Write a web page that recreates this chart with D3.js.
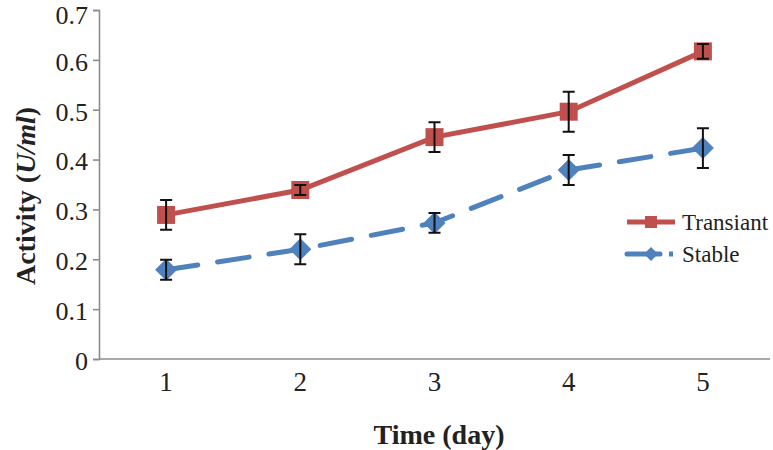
<!DOCTYPE html>
<html><head><meta charset="utf-8">
<script src="https://cdn.jsdelivr.net/npm/d3@7"></script>
<style>body{margin:0;background:#fff}svg{display:block}svg text{font-family:'Liberation Serif','Times New Roman',serif}</style>
</head><body><svg id="c" width="773" height="450"></svg>
<script>
const days = ["1","2","3","4","5"];
const transiant = [0.289, 0.339, 0.445, 0.496, 0.617];
const transiantErr = [0.03, 0.01, 0.03, 0.04, 0.015];
const stable = [0.179, 0.220, 0.273, 0.379, 0.423];
const stableErr = [0.02, 0.03, 0.02, 0.03, 0.04];
const yTicks = [0,0.1,0.2,0.3,0.4,0.5,0.6,0.7];
const seriesNames = ["Transiant","Stable"];

const svg = d3.select("#c");
const m = {l:99, r:3, t:10, b:91};
const W = 773, H = 450;
const x = d3.scaleBand().domain(days).range([m.l, W - m.r]);
const y = d3.scaleLinear().domain([0,0.7]).range([H - m.b, m.t]);
const font = "'Liberation Serif','Times New Roman',serif";
const axisCol = "#8c8c8c";

const ya = svg.append("g").attr("transform",`translate(${m.l},0)`)
  .call(d3.axisLeft(y).tickValues(yTicks).tickSize(6).tickPadding(5).tickFormat(d=>d===0?"0":d3.format(".1f")(d)));
ya.selectAll("path,line").attr("stroke",axisCol).attr("stroke-width",1.6);
ya.selectAll("text").style("font-family",font).attr("font-size",26).attr("fill","#222")
  .attr("dy", d => d === 0.7 ? "0.5em" : "0.4em");

const xa = svg.append("g").attr("transform",`translate(0,${H-m.b})`)
  .call(d3.axisBottom(x).tickSize(0).tickPadding(13));
xa.select("path").attr("stroke",axisCol).attr("stroke-width",1.6).attr("d",`M${m.l},0H${W-m.r}`);
xa.selectAll("text").style("font-family",font).attr("font-size",27).attr("fill","#222");

svg.append("text").attr("x",439).attr("y",444).attr("text-anchor","middle")
  .style("font-family",font).attr("font-size",28).attr("font-weight","bold").attr("fill","#222").text("Time (day)");
const yl = svg.append("text").attr("transform","translate(25,196) rotate(-90)").attr("text-anchor","middle")
  .attr("dy","0.34em").style("font-family",font).attr("font-size",28).attr("font-weight","bold").attr("fill","#222");
yl.append("tspan").text("Activity (");
yl.append("tspan").attr("font-style","italic").text("U/ml");
yl.append("tspan").text(")");

const cx = d => x(d) + x.bandwidth()/2;
const red = "#c0504d", blue = "#4f81bd";

function drawSeries(vals, errs, col, dash, marker) {
  const data = days.map((d,i)=>({d, v:vals[i], e:errs[i]}));
  svg.append("path").datum(data).attr("fill","none").attr("stroke",col).attr("stroke-width",5)
    .attr("stroke-dasharray",dash).attr("stroke-linecap","round")
    .attr("d", d3.line().x(p=>cx(p.d)).y(p=>y(p.v)));
  const g = svg.append("g");
  data.forEach(p=>{
    if (marker==="square") g.append("rect").attr("x",cx(p.d)-9).attr("y",y(p.v)-9).attr("width",18).attr("height",18).attr("fill",col);
    else g.append("path").attr("d",`M${cx(p.d)},${y(p.v)-11}L${cx(p.d)+11},${y(p.v)}L${cx(p.d)},${y(p.v)+11}L${cx(p.d)-11},${y(p.v)}Z`).attr("fill",col);
  });
  data.forEach(p=>{
    const X = cx(p.d), y1 = y(p.v+p.e), y2 = y(p.v-p.e);
    g.append("path").attr("d",`M${X},${y1}V${y2}M${X-6},${y1}H${X+6}M${X-6},${y2}H${X+6}`)
      .attr("stroke","#111").attr("stroke-width",2).attr("fill","none");
  });
}
drawSeries(transiant, transiantErr, red, null, "square");
drawSeries(stable, stableErr, blue, "32,20", "diamond");

// legend
const lg = svg.append("g");
const ly = [222, 254];
lg.append("line").attr("x1",627).attr("x2",675).attr("y1",ly[0]).attr("y2",ly[0]).attr("stroke",red).attr("stroke-width",5);
lg.append("rect").attr("x",645).attr("y",ly[0]-6).attr("width",12).attr("height",12).attr("fill",red);
lg.append("line").attr("x1",627).attr("x2",660).attr("y1",ly[1]).attr("y2",ly[1]).attr("stroke",blue).attr("stroke-width",5).attr("stroke-linecap","round");
lg.append("path").attr("d",`M651,${ly[1]-7}L658,${ly[1]}L651,${ly[1]+7}L644,${ly[1]}Z`).attr("fill",blue);
lg.append("line").attr("x1",669).attr("x2",673).attr("y1",ly[1]).attr("y2",ly[1]).attr("stroke",blue).attr("stroke-width",5);
seriesNames.forEach((n,i)=>{
  lg.append("text").attr("x",682).attr("y",ly[i]).attr("dy","0.34em").style("font-family",font).attr("font-size",23).attr("fill","#222").text(n);
});
</script></body></html>
